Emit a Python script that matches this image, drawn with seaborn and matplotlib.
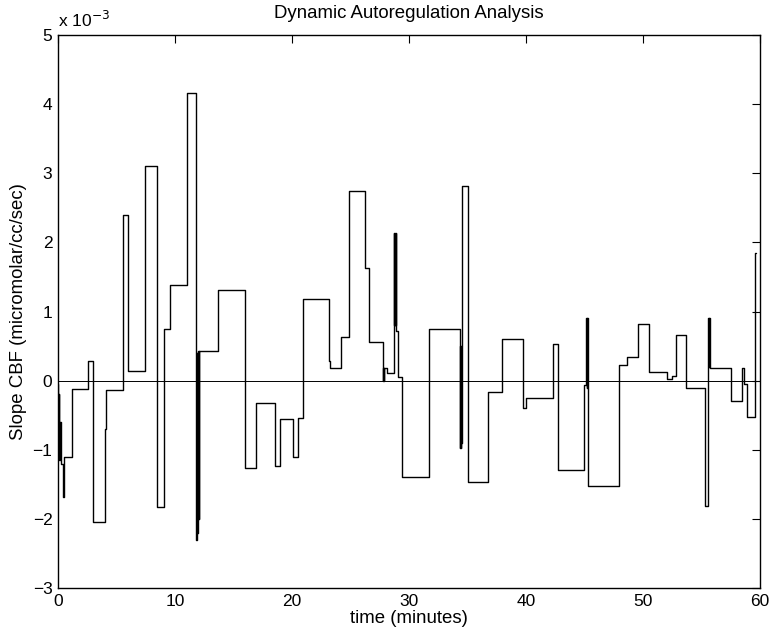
import numpy as np
import pandas as pd
import matplotlib
matplotlib.use("Agg")
import matplotlib.pyplot as plt
import seaborn as sns

# step start times (minutes) and slope values (x 1e-3 micromolar/cc/sec)
time_min = [0.0, 0.04, 0.08, 0.13, 0.18, 0.3, 0.4, 0.5, 1.17, 2.59, 3.02, 4.02, 4.1,
            5.58, 5.95, 7.44, 8.49, 9.06, 9.57, 11.03, 11.82, 11.87, 11.92, 11.97,
            12.01, 12.05, 13.68, 15.96, 16.95, 18.52, 18.95, 20.06, 20.54, 20.91,
            23.13, 23.25, 24.19, 24.9, 26.24, 26.55, 27.75, 27.8, 27.85, 27.9, 28.1,
            28.69, 28.74, 28.78, 28.83, 28.87, 28.92, 29.03, 29.36, 31.71, 34.33,
            34.37, 34.41, 34.45, 34.48, 34.52, 35.07, 36.78, 37.98, 39.77, 40.03,
            42.31, 42.71, 44.98, 45.15, 45.2, 45.25, 45.3, 47.95, 48.6, 49.58, 50.5,
            52.02, 52.45, 52.8, 53.67, 55.3, 55.58, 55.62, 55.66, 55.7, 57.52, 58.43,
            58.6, 58.86, 59.57, 59.62]
slope = [-0.05, -1.1, -0.2, -1.15, -0.6, -1.2, -1.68, -1.1, -0.12, 0.28, -2.04, -0.7, -0.14,
         2.4, 0.14, 3.1, -1.83, 0.75, 1.38, 4.16, -2.3, 0.4, -2.2, 0.43,
         -2.0, 0.43, 1.31, -1.26, -0.33, -1.24, -0.56, -1.1, -0.54, 1.18,
         0.29, 0.19, 0.63, 2.75, 1.63, 0.56, 0.0, 0.19, 0.0, 0.19, 0.11,
         2.14, 0.8, 2.14, 0.8, 2.14, 0.72, 0.05, -1.4, 0.75, -0.97,
         0.5, -0.97, 0.3, -0.9, 2.82, -1.46, -0.17, 0.6, -0.39, -0.25,
         0.53, -1.29, -0.06, 0.9, -0.1, 0.9, -1.53, 0.23, 0.34, 0.82, 0.12,
         0.02, 0.07, 0.66, -0.11, -1.82, 0.9, 0.2, 0.9, 0.19, -0.29, 0.18,
         -0.05, -0.53, 1.84, 1.84]

x_ticks = [0, 10, 20, 30, 40, 50, 60]
y_ticks = [-3, -2, -1, 0, 1, 2, 3, 4, 5]

sns.set_style("white")
plt.rcParams['font.family'] = ['Liberation Sans', 'DejaVu Sans']
plt.rcParams['text.color'] = 'black'
plt.rcParams['axes.labelcolor'] = 'black'
plt.rcParams['xtick.color'] = 'black'
plt.rcParams['ytick.color'] = 'black'

fig = plt.figure(figsize=(7.72, 6.37), dpi=100)
ax = fig.add_axes([0.0751, 0.0769, 0.9094, 0.8681])

df = pd.DataFrame({"time": time_min, "slope": slope})
sns.lineplot(data=df, x="time", y="slope", estimator=None, sort=False,
             drawstyle="steps-post", color="black", linewidth=1.0, ax=ax)
ax.axhline(0, color="black", linewidth=0.7)

ax.set_xlim(0, 60)
ax.set_ylim(-3, 5)
ax.set_xticks(x_ticks)
ax.set_yticks(y_ticks)
ax.tick_params(direction="in", length=6, width=0.8, top=True, right=True,
               labelsize=12.5, pad=4)
for s in ax.spines.values():
    s.set_visible(True)
    s.set_color("black")
    s.set_linewidth(1.0)

ax.set_title("Dynamic Autoregulation Analysis", fontsize=13.4, pad=12)
ax.set_xlabel("time (minutes)", fontsize=13.4, labelpad=1)
ax.set_ylabel("Slope CBF (micromolar/cc/sec)", fontsize=13.4, labelpad=4)
ax.text(0.0, 1.01, r"x 10$^{-3}$", transform=ax.transAxes, fontsize=12.5,
        ha="left", va="bottom")

fig.savefig("out.png", dpi=100)
